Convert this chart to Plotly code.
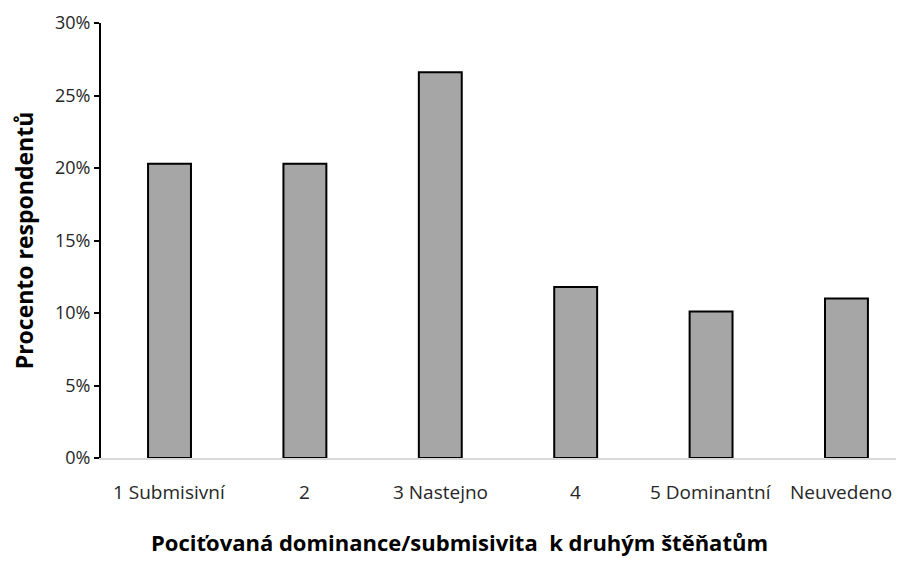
import plotly.graph_objects as go

# ===== data =====
kategorie = ["1 Submisivní", "2", "3 Nastejno", "4", "5 Dominantní", "Neuvedeno"]
procenta = [20.3, 20.3, 26.6, 11.8, 10.1, 11.0]
y_ticks = [0, 5, 10, 15, 20, 25, 30]
y_tick_labels = ["0%", "5%", "10%", "15%", "20%", "25%", "30%"]

FONT = "Open Sans, sans-serif"

fig = go.Figure(
    go.Bar(
        x=kategorie,
        y=procenta,
        width=0.317,
        marker=dict(color="#a6a6a6", line=dict(color="black", width=2)),
    )
)

# stránka má okraj 8 px, proto menší rozměr a okraje
fig.update_layout(
    width=896,
    height=559,
    plot_bgcolor="white",
    paper_bgcolor="white",
    margin=dict(l=93, r=0, t=15, b=109),
    showlegend=False,
    font=dict(family=FONT, color="#262626"),
)

# popisky kategorií jako anotace (index kategorie; poslední posunutý doleva jako v Excelu)
for i, kat in enumerate(kategorie):
    fig.add_annotation(
        x=i, xref="x", y=0, yref="paper",
        yanchor="middle", yshift=-34,
        xshift=-5 if i == len(kategorie) - 1 else 0,
        text=kat, showarrow=False,
        font=dict(size=19, family=FONT, color="#262626"),
    )

# název osy x
fig.add_annotation(
    x=0.447, xref="paper", y=0, yref="paper",
    yanchor="middle", yshift=-84,
    text="<b>Pociťovaná dominance/submisivita  k druhým štěňatům</b>",
    showarrow=False,
    font=dict(size=22, family=FONT, color="black"),
)

fig.update_xaxes(
    range=[-0.506, 5.425],
    showgrid=False,
    showline=True,
    linecolor="#d9d9d9",
    linewidth=2,
    ticks="",
    showticklabels=False,
)

fig.update_yaxes(
    range=[0, 30],
    tickvals=y_ticks,
    ticktext=y_tick_labels,
    showgrid=False,
    zeroline=False,
    showline=True,
    linecolor="black",
    linewidth=2,
    ticks="outside",
    ticklen=5,
    tickwidth=2,
    tickcolor="black",
    tickfont=dict(size=18, family=FONT, color="#262626"),
    title=dict(
        text="<b>Procento respondentů</b>",
        font=dict(size=23, family=FONT, color="black"),
        standoff=18,
    ),
)

fig.write_html("out.html")
